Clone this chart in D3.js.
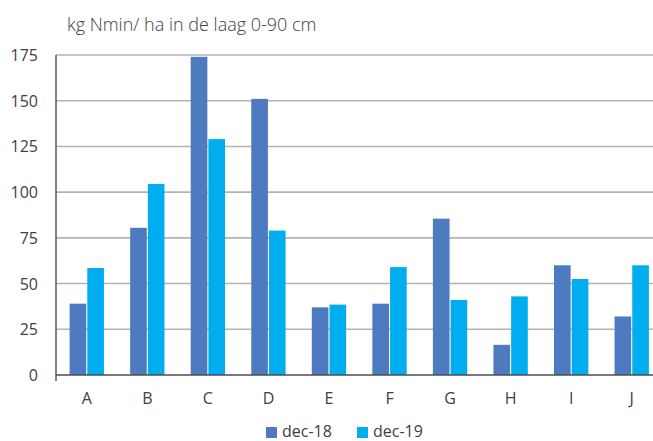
<!DOCTYPE html>
<html><head><meta charset="utf-8">
<script src="https://cdn.jsdelivr.net/npm/d3@7"></script>
<style>body{margin:0;background:#fff;} text{font-family:"Open Sans",Roboto,sans-serif;fill:#404040;}</style>
</head><body>
<svg id="c" width="653" height="441"></svg>
<script>
const categories = ["A","B","C","D","E","F","G","H","I","J"];
const seriesNames = ["dec-18","dec-19"];
const dec18 = [39, 80.5, 174, 151, 37, 39, 85.5, 16.5, 60, 32];
const dec19 = [58.5, 104.5, 129, 79, 38.5, 59, 41, 43, 52.5, 60];
const yTicks = [0,25,50,75,100,125,150,175];
const colors = ["#4e7bc0","#00aeef"];
const title = "kg Nmin/ ha in de laag 0-90 cm";

const svg = d3.select("#c");
const y = d3.scaleLinear().domain([0,175]).range([375,55]);
const x = d3.scaleBand().domain(categories).range([56.5, 662]).paddingInner(0).paddingOuter(0);
const xs = d3.scaleBand().domain(seriesNames).range([0, x.bandwidth()]).paddingInner(0.06).paddingOuter(0.74);

// gridlines
svg.append("g").selectAll("line").data(yTicks.filter(d=>d>0)).join("line")
  .attr("x1",56).attr("x2",653).attr("y1",d=>y(d)).attr("y2",d=>y(d))
  .attr("stroke","#b3b3b3").attr("stroke-width",1.6);

// bars
const data = [dec18, dec19];
data.forEach((vals,si)=>{
  svg.append("g").selectAll("rect").data(vals).join("rect")
    .attr("x",(d,i)=>x(categories[i])+xs(seriesNames[si]))
    .attr("width",xs.bandwidth())
    .attr("y",d=>y(d)).attr("height",d=>y(0)-y(d))
    .attr("fill",colors[si]);
});

// zero line & y axis line
svg.append("line").attr("x1",56).attr("x2",653).attr("y1",y(0)).attr("y2",y(0)).attr("stroke","#4d4d4d").attr("stroke-width",1.5);
svg.append("line").attr("x1",56).attr("x2",56).attr("y1",y(175)).attr("y2",381).attr("stroke","#595959").attr("stroke-width",1.5);

// y tick labels
const yAxis = d3.axisLeft(y).tickValues(yTicks).tickSize(0).tickPadding(18);
const ga = svg.append("g").attr("transform","translate(56,0)").call(yAxis);
ga.select(".domain").remove();
ga.selectAll("text").attr("font-size","16px").attr("font-family","'Open Sans',sans-serif").attr("fill","#404040").attr("dy","0.34em");

// x labels
const xAxis = d3.axisBottom(x).tickSize(0).tickPadding(18);
const gx = svg.append("g").attr("transform","translate(0,375)").call(xAxis);
gx.select(".domain").remove();
gx.selectAll("text").attr("font-size","16px").attr("font-family","'Open Sans',sans-serif").attr("fill","#404040");

// title
svg.append("text").attr("x",67).attr("y",31).attr("font-size","18px").attr("font-weight",300).text(title);

// legend
const leg = [{n:seriesNames[0],x:266,c:colors[0]},{n:seriesNames[1],x:357,c:colors[1]}];
leg.forEach(l=>{
  svg.append("rect").attr("x",l.x).attr("y",427).attr("width",11).attr("height",11).attr("fill",l.c);
  svg.append("text").attr("x",l.x+16).attr("y",436.5).attr("font-size","16px").text(l.n);
});
</script>
</body></html>
